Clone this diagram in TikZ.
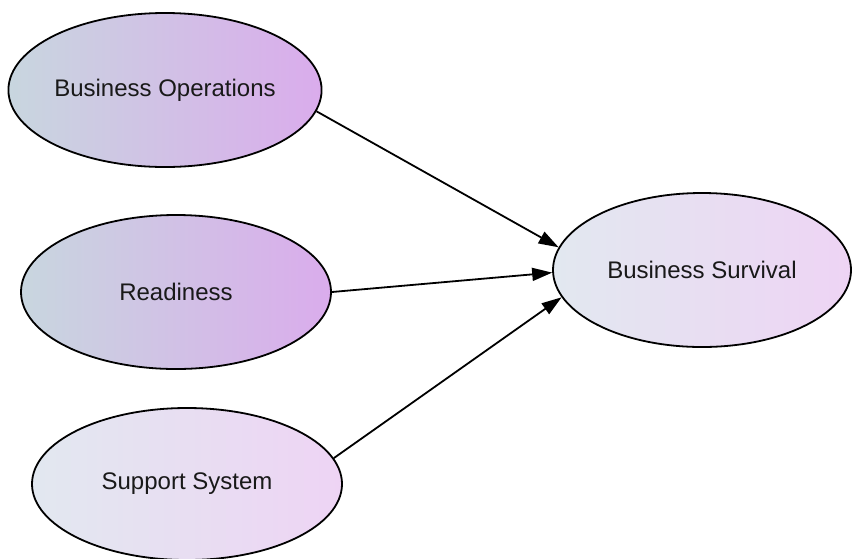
\documentclass[tikz,border=0pt]{standalone}
\usepackage{fontspec}
\setmainfont{Liberation Sans}
\usetikzlibrary{arrows.meta,shapes.geometric}
\definecolor{deepL}{HTML}{C8D6DF}
\definecolor{deepR}{HTML}{DAACEC}
\definecolor{paleL}{HTML}{E2E8F0}
\definecolor{paleR}{HTML}{EED4F4}
\begin{document}
\begin{tikzpicture}[x=1pt,y=-1pt,
  factor/.style={ellipse,draw=black,line width=1.8pt,minimum width=310pt,
    minimum height=154pt,inner sep=0pt,font=\fontsize{24}{28}\selectfont,text=black!90},
  deep/.style={factor,left color=deepL,right color=deepR},
  pale/.style={factor,left color=paleL,right color=paleR},
  link/.style={line width=1.8pt,-{Triangle[length=20pt,width=13pt]}}]
\useasboundingbox (0,0) rectangle (853,558);
\node[deep] (bo) at (165,90) {Business Operations};
\node[deep] (rd) at (176,292) {Readiness};
\node[pale,minimum height=152pt] (ss) at (187,484) {Support System};
\node[pale,minimum width=298pt] (bs) at (702,270) {Business Survival};
\draw[link] (bo.-8) -- (bs.171);
\draw[link] (rd.0) -- (bs.181);
\draw[link] (ss.10) -- (bs.191);
\end{tikzpicture}
\end{document}
